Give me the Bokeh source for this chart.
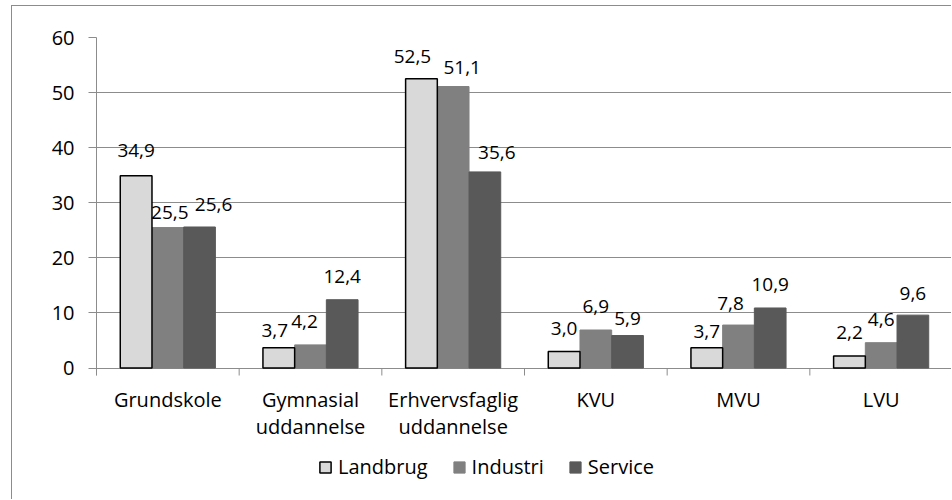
from bokeh.plotting import figure
from bokeh.models import ColumnDataSource, Range1d, FixedTicker, Legend, LegendItem, FactorRange
from bokeh.transform import dodge
from bokeh.core.properties import value
from bokeh.embed import file_html
from bokeh.resources import INLINE

# ---- data ----
categories = ["Grundskole", "Gymnasial\nuddannelse", "Erhvervsfaglig\nuddannelse", "KVU", "MVU", "LVU"]
landbrug = [34.9, 3.7, 52.5, 3.0, 3.7, 2.2]
industri = [25.5, 4.2, 51.1, 6.9, 7.8, 4.6]
service = [25.6, 12.4, 35.6, 5.9, 10.9, 9.6]
series_names = ["Landbrug", "Industri", "Service"]
y_ticks = [0, 10, 20, 30, 40, 50, 60]

# ---- styles ----
FONT = "Open Sans"
GRID = "#8c8c8c"
colors = ["#d9d9d9", "#808080", "#595959"]
bar_w = 1 / 4.5
offsets = [-bar_w, 0.0, bar_w]
# data-label nudges in pixels (Excel moved some labels to avoid overlaps)
dx_l = [0, -4, -9, 0, 0, 0]
dx_i = [2, -6, 9, 0, -8, 0]
dx_s = [14, 0, 12, 0, 0, 0]
lift_l = [25, 17, 22.5, 23, 16, 23]
lift_i = [15.5, 23.4, 18.7, 23.5, 21.6, 23]
lift_s = [22, 23, 19.5, 17, 23.5, 22]
Y_TICK_BOTTOM = -1.36   # end of the category tick marks below zero
Y_LOW = -24.05          # frame continues down so the legend can sit inside it


def fmt(v):
    return f"{v:.1f}".replace(".", ",")


src = ColumnDataSource(dict(
    cat=categories,
    landbrug=landbrug, industri=industri, service=service,
    landbrug_lbl=[fmt(v) for v in landbrug],
    industri_lbl=[fmt(v) for v in industri],
    service_lbl=[fmt(v) for v in service],
    landbrug_dx=dx_l, industri_dx=dx_i, service_dx=dx_s,
    landbrug_dy=[-v for v in lift_l], industri_dy=[-v for v in lift_i], service_dy=[-v for v in lift_s],
))

p = figure(x_range=FactorRange(factors=categories), y_range=Range1d(Y_LOW, 60),
           width=940, height=494, output_backend="svg", toolbar_location=None,
           min_border_left=84, min_border_right=0, min_border_top=31, min_border_bottom=0)
p.outline_line_color = None
p.background_fill_color = "white"
p.border_fill_color = "white"
p.styles = {"border-left": "1px solid #8c8c8c", "border-top": "1px solid #8c8c8c",
            "margin-left": "11px", "margin-top": "5px"}

# grid
p.xgrid.visible = False
p.ygrid.ticker = FixedTicker(ticks=y_ticks)
p.ygrid.grid_line_color = GRID
p.ygrid.grid_line_width = 1

# y axis
p.yaxis.ticker = FixedTicker(ticks=y_ticks)
p.yaxis.bounds = (Y_TICK_BOTTOM, 60)
p.yaxis.axis_line_color = GRID
p.yaxis.major_tick_line_color = GRID
p.yaxis.major_tick_out = 8
p.yaxis.major_tick_in = 0
p.yaxis.minor_tick_out = 0
p.yaxis.minor_tick_in = 0
p.yaxis.major_label_text_font = FONT
p.yaxis.major_label_text_font_size = "20px"
p.yaxis.major_label_text_color = "black"
p.yaxis.major_label_standoff = 14

# x axis (labels only), pinned just below the zero line
p.xaxis.fixed_location = Y_TICK_BOTTOM
p.xaxis.axis_line_color = None
p.xaxis.major_tick_out = 0
p.xaxis.major_tick_in = 0
p.xaxis.major_label_text_font = FONT
p.xaxis.major_label_text_font_size = "20px"
p.xaxis.major_label_text_color = "black"
p.xaxis.major_label_standoff = 10
p.xaxis.major_label_text_line_height = 1.0

# category boundary tick marks below the zero line
p.segment(x0=dodge("cat", -0.5, range=p.x_range), y0=0,
          x1=dodge("cat", -0.5, range=p.x_range), y1=Y_TICK_BOTTOM,
          source=src, line_color=GRID, line_width=1)

# bars
r_i = p.vbar(x=dodge("cat", offsets[1], range=p.x_range), top="industri", width=bar_w, source=src,
             fill_color=colors[1], line_color=colors[1], line_width=1)
r_s = p.vbar(x=dodge("cat", offsets[2], range=p.x_range), top="service", width=bar_w, source=src,
             fill_color=colors[2], line_color=colors[2], line_width=1)
r_l = p.vbar(x=dodge("cat", offsets[0], range=p.x_range), top="landbrug", width=bar_w, source=src,
             fill_color=colors[0], line_color="black", line_width=1.5)

# data labels
for key, off in zip(["landbrug", "industri", "service"], offsets):
    p.text(x=dodge("cat", off, range=p.x_range), y=key, text=key + "_lbl",
           x_offset=key + "_dx", y_offset=key + "_dy", source=src,
           text_font=value(FONT), text_font_size="19px", text_color="black",
           text_align="center", text_baseline="middle")

legend = Legend(items=[LegendItem(label=n, renderers=[r]) for n, r in zip(series_names, [r_l, r_i, r_s])],
                orientation="horizontal", location=(222, 20),
                label_text_font=FONT, label_text_font_size="20px", label_text_color="black",
                glyph_width=14, glyph_height=14, label_standoff=6, spacing=24,
                padding=0, margin=0, border_line_alpha=0, background_fill_alpha=0)
p.add_layout(legend, "center")

open("out.html", "w").write(file_html(p, INLINE))
